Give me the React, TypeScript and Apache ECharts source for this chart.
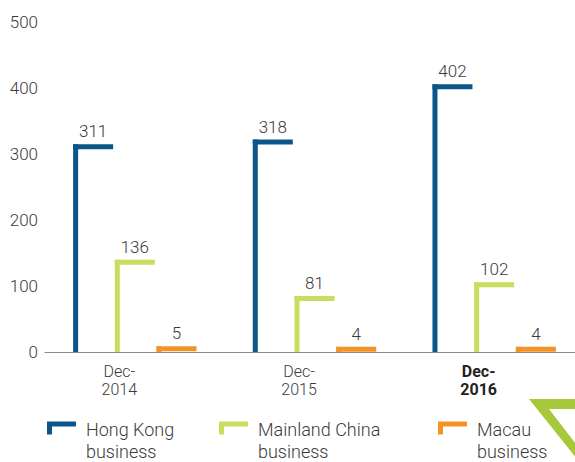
import React, { useEffect, useRef } from "react";
import * as echarts from "echarts";

const categories = ["Dec-\n2014", "Dec-\n2015", "Dec-\n2016"];
const seriesNames = ["Hong Kong\nbusiness", "Mainland China\nbusiness", "Macau\nbusiness"];
const hongKong = [311, 318, 402];
const mainland = [136, 81, 102];
const macau = [5, 4, 4];
const yTicks = [0, 100, 200, 300, 400, 500];

const colors = ["#0a5689", "#cbdc5e", "#f39325"];
const FONT = "Roboto, 'Noto Sans', sans-serif";
const TEXT = "#3a3a3a";
const LIGHT = 300;

const BAR_W = 40;
const STROKE = 5;
const PITCH = 41.7;
const GROUP_START = -61.7;

function makeRender(slot: number, color: string) {
  return (params: any, api: any) => {
    const cat = api.value(0);
    const val = api.value(1);
    const p = api.coord([cat, val]);
    const base = api.coord([cat, 0])[1];
    const x0 = p[0] + GROUP_START + slot * PITCH;
    const yTop = p[1] - STROKE / 2;
    return {
      type: "group",
      children: [
        {
          type: "rect",
          shape: { x: x0, y: yTop, width: STROKE, height: Math.max(base - yTop, 0) },
          style: { fill: color },
        },
        {
          type: "rect",
          shape: { x: x0, y: yTop, width: BAR_W, height: STROKE },
          style: { fill: color },
        },
        {
          type: "text",
          x: x0 + BAR_W / 2,
          y: yTop - 4.5,
          style: {
            text: String(val),
            align: "center",
            verticalAlign: "bottom",
            fill: TEXT,
            fontSize: 17,
            fontWeight: LIGHT,
            fontFamily: FONT,
          },
        },
      ],
    };
  };
}

const legendIcon = "path://M0,0H29V5H5V13H0Z";
const legendLefts = [47, 219, 438];

export default function App() {
  const ref = useRef<HTMLDivElement>(null);
  useEffect(() => {
    document.body.style.margin = "0";
    document.body.style.overflow = "hidden";
    const chart = echarts.init(ref.current!, undefined, { renderer: "svg" });
    const allData = [hongKong, mainland, macau];
    const option: any = {
      animation: false,
      backgroundColor: "#ffffff",
      textStyle: { fontFamily: FONT },
      grid: { left: 45, right: 0, top: 22, bottom: 110, containLabel: false },
      xAxis: {
        type: "category",
        data: categories,
        axisLine: { show: true, lineStyle: { color: "#8c8c8c", width: 1 } },
        axisTick: { show: false },
        axisLabel: {
          margin: 10,
          fontSize: 16,
          lineHeight: 18,
          color: TEXT,
          fontWeight: LIGHT,
          fontFamily: FONT,
          padding: [0, 31, 0, 0],
          formatter: (v: string, i: number) => (i === categories.length - 1 ? "{b|" + v + "}" : v),
          rich: {
            b: { fontSize: 16, lineHeight: 18, fontWeight: "bold", color: "#222", fontFamily: FONT },
          },
        },
      },
      yAxis: {
        type: "value",
        min: yTicks[0],
        max: yTicks[yTicks.length - 1],
        interval: 100,
        axisLine: { show: false },
        axisTick: { show: false },
        splitLine: { show: false },
        axisLabel: { margin: 7, fontSize: 17, color: TEXT, fontWeight: LIGHT, fontFamily: FONT },
      },
      legend: seriesNames.map((name, i) => ({
        data: [name],
        left: legendLefts[i],
        top: 401,
        padding: 0,
        itemWidth: 29,
        itemHeight: 13,
        icon: legendIcon,
        selectedMode: false,
        formatter: (n: string) => "{sp| }\n" + n.split("\n").map((s) => "{t|" + s + "}").join("\n"),
        textStyle: {
          fontSize: 18,
          color: TEXT,
          fontFamily: FONT,
          padding: [0, 0, 0, 5],
          rich: {
            sp: { fontSize: 10, lineHeight: 24 },
            t: { fontSize: 18, lineHeight: 22, color: TEXT, fontWeight: LIGHT, fontFamily: FONT },
          },
        },
      })),
      series: seriesNames.map((name, i) => ({
        name,
        type: "custom",
        renderItem: makeRender(i, colors[i]),
        itemStyle: { color: colors[i] },
        encode: { x: 0, y: 1 },
        data: allData[i].map((v, j) => [j, v]),
        clip: false,
      })),
      graphic: [
        {
          type: "polygon",
          shape: { points: [[529, 399], [650, 399], [650, 550]] },
          style: { fill: "#a7c83b" },
          z: 10,
        },
        {
          type: "polygon",
          shape: { points: [[549, 409], [640, 409], [640, 527]] },
          style: { fill: "#ffffff" },
          z: 11,
        },
      ],
    };
    chart.setOption(option);
    return () => chart.dispose();
  }, []);
  return (
    <div style={{ width: 575, height: 462, overflow: "hidden", position: "relative" }}>
      <div ref={ref} style={{ width: 584, height: 462 }} />
    </div>
  );
}
